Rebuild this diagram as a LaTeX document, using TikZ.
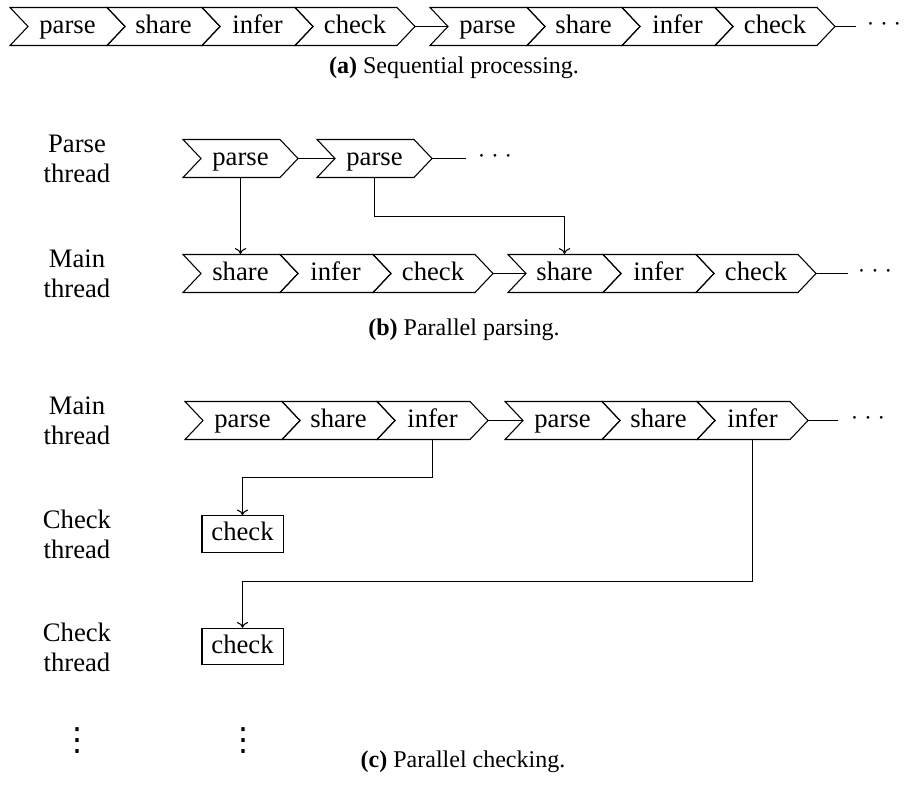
\documentclass[tikz,border=0pt]{standalone}
\usepackage{fontspec}
\setmainfont{Liberation Serif}
\newfontfamily\symfnt{DejaVu Sans}
\usetikzlibrary{arrows.meta}
\newcommand\mydots{$\cdot\mkern4mu{\cdot}\mkern4mu{\cdot}$}
\newcommand\chev[5]{%
  \node[chevnode, minimum width={(#3+18-#2)*0.375pt}] (#1) at ({(#2+#3+18)/2},#4) {#5};
  \draw[chevline] (#2,#4-19) -- (#3,#4-19) -- (#3+18,#4) -- (#3,#4+19) -- (#2,#4+19) -- (#2+18,#4) -- cycle;
  \coordinate (#1-in) at (#2+18,#4);
  \coordinate (#1-out) at (#3+18,#4);
}
\begin{document}
\begin{tikzpicture}[x=0.375pt,y=-0.375pt,
  chevnode/.style={inner sep=0pt, minimum height=14.25pt, text height=6.9pt, text depth=1.7pt,
    font=\fontsize{10}{11.25}\selectfont},
  chevline/.style={draw=black, line width=0.4pt, line join=miter},
  conn/.style={draw=black, line width=0.4pt},
  arr/.style={draw=black, line width=0.4pt, -{To[length=2.2pt,width=4.2pt]}},
  boxnode/.style={draw=black, line width=0.4pt, inner sep=0pt, minimum width=30.4pt, minimum height=13.6pt,
    text height=6.9pt, text depth=1.7pt, font=\fontsize{10}{11.25}\selectfont},
  lbl/.style={align=center, inner sep=0pt, font=\fontsize{10}{11.25}\selectfont},
  dotsnode/.style={inner sep=0pt, anchor=base, font=\fontsize{10}{11.25}\selectfont},
  vdotsnode/.style={inner sep=0pt, anchor=base, font=\symfnt\fontsize{12}{12}\selectfont},
  captext/.style={inner sep=0pt, font=\fontsize{9}{11}\selectfont}]
\useasboundingbox (0,0) rectangle (907,795);

% ---------- (a) ----------
\chev{a1}{10}{107}{26.5}{parse}
\chev{a2}{107}{202}{26.5}{share}
\chev{a3}{202}{295}{26.5}{infer}
\chev{a4}{295}{397}{26.5}{check}
\chev{a5}{430}{527}{26.5}{parse}
\chev{a6}{527}{622}{26.5}{share}
\chev{a7}{622}{715}{26.5}{infer}
\chev{a8}{715}{817}{26.5}{check}
\coordinate (aend) at (856,26.5);
\draw[conn] (a4-out) -- (a5-in);
\draw[conn] (a8-out) -- (aend);
\node[dotsnode] (adots) at (884,30.5) {\mydots};
\node[captext] (capa) at (454,68) {\textbf{(a)} Sequential processing.};

% ---------- (b) ----------
\node[lbl] (lpt) at (77,158.5) {Parse\\thread};
\node[lbl] (lmt) at (77,273.5) {Main\\thread};
\chev{pb1}{183}{280}{158.5}{parse}
\chev{pb2}{317}{414}{158.5}{parse}
\coordinate (pbend) at (466,158.5);
\draw[conn] (pb1-out) -- (pb2-in);
\draw[conn] (pb2-out) -- (pbend);
\node[dotsnode] (pbdots) at (495,162.5) {\mydots};

\chev{ms1}{183}{280}{273.5}{share}
\chev{mi1}{280}{373}{273.5}{infer}
\chev{mc1}{373}{475}{273.5}{check}
\chev{ms2}{508}{603}{273.5}{share}
\chev{mi2}{603}{696}{273.5}{infer}
\chev{mc2}{696}{798}{273.5}{check}
\coordinate (mbend) at (848,273.5);
\draw[conn] (mc1-out) -- (ms2-in);
\draw[conn] (mc2-out) -- (mbend);
\node[dotsnode] (mbdots) at (875,277.5) {\mydots};

\draw[arr] (pb1.south) -- (ms1.north);
\draw[arr] (pb2.south) -- ++(0,38) -| (ms2.north);
\node[captext] (capb) at (464,330) {\textbf{(b)} Parallel parsing.};

% ---------- (c) ----------
\node[lbl] (lmc) at (77,420.5) {Main\\thread};
\node[lbl] (lc1) at (77,534) {Check\\thread};
\node[lbl] (lc2) at (77,647) {Check\\thread};
\chev{cp1}{185}{282}{420.5}{parse}
\chev{cs1}{282}{377}{420.5}{share}
\chev{ci1}{377}{470}{420.5}{infer}
\chev{cp2}{505}{602}{420.5}{parse}
\chev{cs2}{602}{697}{420.5}{share}
\chev{ci2}{697}{790}{420.5}{infer}
\coordinate (cend) at (838,420.5);
\draw[conn] (ci1-out) -- (cp2-in);
\draw[conn] (ci2-out) -- (cend);
\node[dotsnode] (cdots) at (868,424.5) {\mydots};

\node[boxnode] (ck1) at (242.5,534) {check};
\node[boxnode] (ck2) at (242.5,646.5) {check};
\draw[arr] (ci1.south) -- ++(0,37) -| (ck1.north);
\draw[arr] (ci2.south) -- ++(0,141) -| (ck2.north);

\node[vdotsnode] (vd1) at (77,750) {⋮};
\node[vdotsnode] (vd2) at (243,750) {⋮};
\node[captext] (capc) at (463,762) {\textbf{(c)} Parallel checking.};
\end{tikzpicture}
\end{document}
